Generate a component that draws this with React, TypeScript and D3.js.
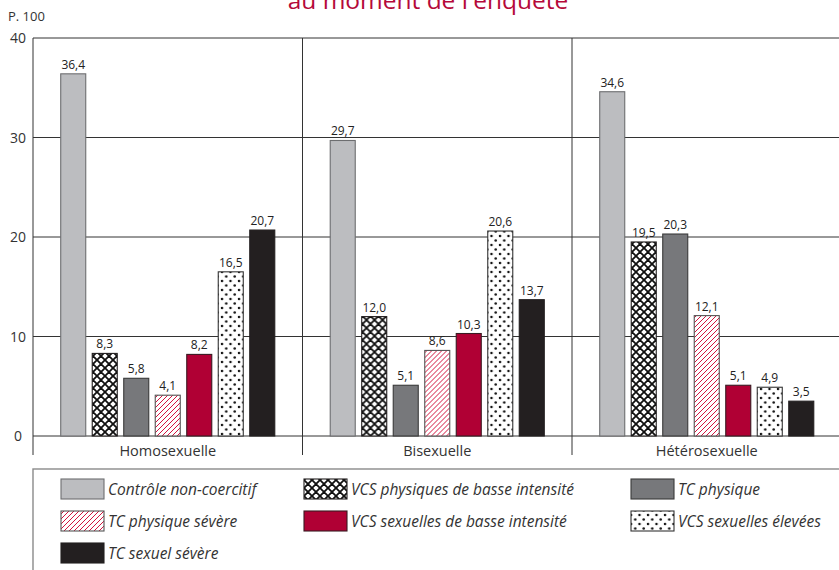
import React, { useRef, useEffect } from 'react';
import * as d3 from 'd3';

const categories = ['Homosexuelle', 'Bisexuelle', 'Hétérosexuelle'];
const seriesNames = [
  'Contrôle non-coercitif',
  'VCS physiques de basse intensité',
  'TC physique',
  'TC physique sévère',
  'VCS sexuelles de basse intensité',
  'VCS sexuelles élevées',
  'TC sexuel sévère',
];
// one array per category, in series order
const homosexuelle = [36.4, 8.3, 5.8, 4.1, 8.2, 16.5, 20.7];
const bisexuelle = [29.7, 12.0, 5.1, 8.6, 10.3, 20.6, 13.7];
const heterosexuelle = [34.6, 19.5, 20.3, 12.1, 5.1, 4.9, 3.5];
const yTicks = [0, 10, 20, 30, 40];

const fills = [
  '#bcbdc0',
  'url(#cross)',
  '#77787b',
  'url(#hatch)',
  '#b00034',
  'url(#dots)',
  '#231f20',
];
const strokes = ['#6d6e70', '#231f20', '#3a3a3a', '#555', '#3a1a22', '#333', '#231f20'];

const W = 839;
const H = 570;

const App: React.FC = () => {
  const svgRef = useRef<SVGSVGElement | null>(null);

  useEffect(() => {
    const svg = d3.select(svgRef.current!);
    svg.selectAll('*').remove();
    const font = '"Open Sans", "Noto Sans", sans-serif';
    const ink = '#333';

    const defs = svg.append('defs');
    // crosshatch
    const cross = defs.append('pattern').attr('id', 'cross')
      .attr('patternUnits', 'userSpaceOnUse').attr('width', 8).attr('height', 8);
    cross.append('rect').attr('width', 8).attr('height', 8).attr('fill', '#fff');
    cross.append('path').attr('d', 'M0,0 L8,8 M8,0 L0,8 M-4,4 L4,12 M4,-4 L12,4 M-4,4 L4,-4 M4,12 L12,4')
      .attr('stroke', '#111').attr('stroke-width', 1.8);
    // red hatching
    const hatch = defs.append('pattern').attr('id', 'hatch')
      .attr('patternUnits', 'userSpaceOnUse').attr('width', 5).attr('height', 5);
    hatch.append('rect').attr('width', 5).attr('height', 5).attr('fill', '#fff');
    hatch.append('path').attr('d', 'M0,5 L5,0 M-1,1 L1,-1 M4,6 L6,4')
      .attr('stroke', '#d2143f').attr('stroke-width', 1);
    // dots
    const dots = defs.append('pattern').attr('id', 'dots')
      .attr('patternUnits', 'userSpaceOnUse').attr('width', 8.5).attr('height', 9);
    dots.append('rect').attr('width', 8.5).attr('height', 9).attr('fill', '#fff');
    dots.append('circle').attr('cx', 2).attr('cy', 2).attr('r', 1.25).attr('fill', '#111');
    dots.append('circle').attr('cx', 6.25).attr('cy', 6.5).attr('r', 1.25).attr('fill', '#111');

    const left = 33;
    const catW = 269.5;
    const y = d3.scaleLinear().domain([0, 40]).range([436, 38]);
    const x0 = d3.scaleBand<string>().domain(categories)
      .range([left, left + catW * categories.length]);
    const x1 = d3.scaleBand<number>().domain(d3.range(seriesNames.length))
      .range([0, x0.bandwidth()]).paddingInner(0.206).paddingOuter(0.88);

    // title (cut off at top, as in the source)
    svg.append('text').attr('x', 428).attr('y', 9).attr('text-anchor', 'middle')
      .attr('font-family', font).attr('font-size', 24.5).attr('fill', '#b5093a')
      .text("au moment de l'enquête");

    svg.append('text').attr('x', 8).attr('y', 21).attr('font-family', font)
      .attr('font-size', 13).attr('fill', ink).text('P. 100');

    // grid
    svg.selectAll('line.grid').data(yTicks).enter().append('line')
      .attr('x1', left).attr('x2', W).attr('y1', (d) => y(d)).attr('y2', (d) => y(d))
      .attr('stroke', ink).attr('stroke-width', 1);
    svg.selectAll('text.tick').data(yTicks).enter().append('text')
      .attr('x', 18).attr('y', (d) => y(d) + 5).attr('text-anchor', 'middle')
      .attr('font-family', font).attr('font-size', 14).attr('fill', ink)
      .text((d) => String(d));

    // vertical axis and separators
    const seps = [left, ...categories.slice(1).map((c) => x0(c)!)];
    svg.selectAll('line.sep').data(seps).enter().append('line')
      .attr('x1', (d) => d).attr('x2', (d) => d).attr('y1', y(40)).attr('y2', 455)
      .attr('stroke', ink).attr('stroke-width', 1);

    const values = [homosexuelle, bisexuelle, heterosexuelle];
    categories.forEach((cat, ci) => {
      const g = svg.append('g').attr('transform', `translate(${x0(cat)},0)`);
      g.selectAll('rect').data(values[ci]).enter().append('rect')
        .attr('x', (_, i) => x1(i)!).attr('width', x1.bandwidth())
        .attr('y', (d) => y(d)).attr('height', (d) => y(0) - y(d))
        .attr('fill', (_, i) => fills[i]).attr('stroke', (_, i) => strokes[i])
        .attr('stroke-width', 1.1);
      g.selectAll('text').data(values[ci]).enter().append('text')
        .attr('x', (_, i) => x1(i)! + x1.bandwidth() / 2).attr('y', (d) => y(d) - 5)
        .attr('text-anchor', 'middle').attr('font-family', font).attr('font-size', 12)
        .attr('fill', '#222').text((d) => d.toFixed(1).replace('.', ','));
      svg.append('text').attr('x', x0(cat)! + catW / 2).attr('y', 456)
        .attr('text-anchor', 'middle').attr('font-family', font).attr('font-size', 14.5)
        .attr('fill', ink).text(cat);
    });

    // legend
    svg.append('rect').attr('x', left).attr('y', 469).attr('width', W).attr('height', 200)
      .attr('fill', 'none').attr('stroke', '#8a8a8a').attr('stroke-width', 1.4);
    const colX = [61, 304, 631];
    const rowY = [479, 511, 543];
    seriesNames.forEach((name, i) => {
      const cx = colX[i % 3];
      const ry = rowY[Math.floor(i / 3)];
      svg.append('rect').attr('x', cx).attr('y', ry).attr('width', 43).attr('height', 20)
        .attr('fill', fills[i]).attr('stroke', strokes[i]).attr('stroke-width', 1.1);
      svg.append('text').attr('x', cx + 47).attr('y', ry + 15.5)
        .attr('font-family', font).attr('font-size', 15.5).attr('font-style', 'italic')
        .attr('fill', ink).text(name);
    });
  }, []);

  return (
    <div style={{ position: 'absolute', left: 0, top: 0 }}>
      <svg ref={svgRef} width={W} height={H} style={{ display: 'block', background: '#fff' }} />
    </div>
  );
};

export default App;
